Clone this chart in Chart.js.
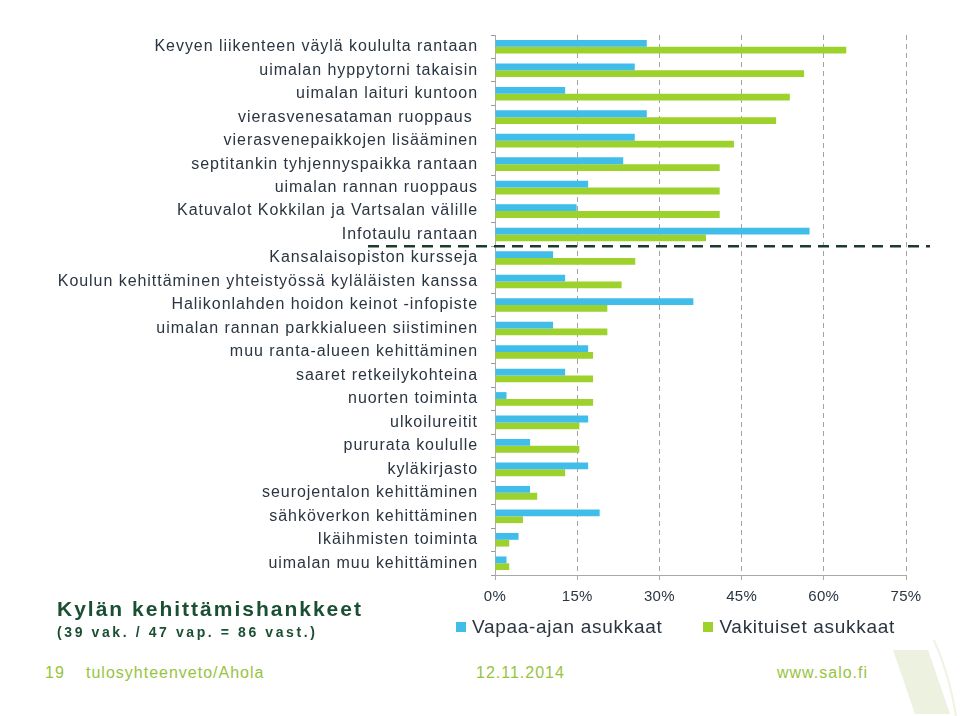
<!DOCTYPE html>
<html>
<head>
<meta charset="utf-8">
<title>Kylän kehittämishankkeet</title>
<script src="https://cdn.jsdelivr.net/npm/chart.js@4.4.1/dist/chart.umd.min.js"></script>
<style>
  html, body { margin: 0; padding: 0; background: #fff; }
  body { width: 960px; height: 716px; position: relative; overflow: hidden;
         font-family: 'Liberation Sans', Arial, sans-serif; }
  #wrap { position: absolute; left: 0; top: 0; width: 960px; height: 660px; }
  .txt { position: absolute; white-space: pre; line-height: 1; z-index: 2; }
  #title { left: 57px; top: 598px; font-size: 21px; font-weight: bold; color: #1a4f33; letter-spacing: 2px; }
  #sub { left: 57px; top: 625px; font-size: 14px; font-weight: bold; color: #1a4f33; letter-spacing: 2.6px; }
  .foot { top: 665px; font-size: 16px; color: #98c33f; letter-spacing: 1px; }
  #legend { position: absolute; left: 456px; top: 617px; z-index: 2; white-space: nowrap;
            font-size: 19px; line-height: 20px; color: #2a3541; letter-spacing: 0.7px; }
  #legend .item { display: inline-block; margin-right: 41px; }
  #legend .box { display: inline-block; width: 10px; height: 10px; margin-right: 6px; vertical-align: 1px; }
  #deco { position: absolute; left: 0; top: 0; z-index: 0; }
</style>
</head>
<body>
<svg id="deco" width="960" height="716">
  <polygon points="893,650 928,650 950,714 915,714" fill="#ecf2df"/>
  <path d="M934,640 C945,665 952,690 956,716" stroke="#eef3e4" stroke-width="2" fill="none"/>
</svg>
<div id="wrap"><canvas id="myChartBarra"></canvas></div>
<div class="txt" id="title">Kylän kehittämishankkeet</div>
<div class="txt" id="sub">(39 vak. / 47 vap. = 86 vast.)</div>
<div id="legend"></div>
<div class="txt foot" style="left:45px">19</div>
<div class="txt foot" style="left:86px">tulosyhteenveto/Ahola</div>
<div class="txt foot" style="left:476px">12.11.2014</div>
<div class="txt foot" style="left:777px">www.salo.fi</div>
<script>
var hankkeet = [
  'Kevyen liikenteen väylä koululta rantaan',
  'uimalan hyppytorni takaisin',
  'uimalan laituri kuntoon',
  'vierasvenesataman ruoppaus ',
  'vierasvenepaikkojen lisääminen',
  'septitankin tyhjennyspaikka rantaan',
  'uimalan rannan ruoppaus',
  'Katuvalot Kokkilan ja Vartsalan välille',
  'Infotaulu rantaan',
  'Kansalaisopiston kursseja',
  'Koulun kehittäminen yhteistyössä kyläläisten kanssa',
  'Halikonlahden hoidon keinot -infopiste',
  'uimalan rannan parkkialueen siistiminen',
  'muu ranta-alueen kehittäminen',
  'saaret retkeilykohteina',
  'nuorten toiminta',
  'ulkoilureitit',
  'pururata koululle',
  'kyläkirjasto',
  'seurojentalon kehittäminen',
  'sähköverkon kehittäminen',
  'Ikäihmisten toiminta',
  'uimalan muu kehittäminen'
];

// prosentit
var vapaaAjan = [27.7, 25.5, 12.8, 27.7, 25.5, 23.4, 17.0, 14.9, 57.4, 10.6, 12.8, 36.2,
                 10.6, 17.0, 12.8, 2.1, 17.0, 6.4, 17.0, 6.4, 19.1, 4.3, 2.1];
var vakituiset = [64.1, 56.4, 53.8, 51.3, 43.6, 41.0, 41.0, 41.0, 38.5, 25.6, 23.1, 20.5,
                  20.5, 17.9, 17.9, 17.9, 15.4, 15.4, 12.8, 7.7, 5.1, 2.6, 2.6];

var xTicks = [0, 15, 30, 45, 60, 75];

// y-akselin tekstit harvennettuna, x-akselin tekstit piirretään palkkien jälkeen (ticks.z)
var spacing = {
  id: 'spacing',
  beforeUpdate: function (chart) { chart.ctx.letterSpacing = '0.95px'; },
  beforeDraw: function (chart) { chart.ctx.letterSpacing = '0.95px'; },
  afterDatasetsDraw: function (chart) { chart.ctx.letterSpacing = '0.3px'; }
};

// katkoviiva "Infotaulu rantaan" -rivin alle
var divider = {
  id: 'divider',
  afterDraw: function (chart) {
    var y = chart.scales.y, x = chart.scales.x;
    var py = (y.getPixelForValue(8) + y.getPixelForValue(9)) / 2;
    var ctx = chart.ctx;
    ctx.save();
    ctx.strokeStyle = '#1e3a2c';
    ctx.lineWidth = 2.5;
    ctx.setLineDash([11, 7]);
    ctx.beginPath();
    ctx.moveTo(x.getPixelForValue(0) - 127, py);
    ctx.lineTo(chart.width - 30, py);
    ctx.stroke();
    ctx.restore();
  }
};

var ctx1 = document.getElementById('myChartBarra').getContext('2d');
var myChartBar = new Chart(ctx1, {
    type: 'bar',
    data: {
        labels: hankkeet,
        datasets: [{
            label: 'Vapaa-ajan asukkaat',
            backgroundColor: '#41bdea',
            data: vapaaAjan
        }, {
            label: 'Vakituiset asukkaat',
            backgroundColor: '#9dd12b',
            data: vakituiset
        }]
    },
    options: {
        indexAxis: 'y',
        responsive: true,
        maintainAspectRatio: false,
        animation: false,
        barPercentage: 1,
        categoryPercentage: 0.58,
        layout: { padding: { top: 35, right: 54, bottom: 55, left: 0 } },
        plugins: {
            legend: { display: false },
            tooltip: { enabled: false }
        },
        scales: {
            x: {
                min: 0,
                max: 75,
                afterBuildTicks: function (s) { s.ticks = xTicks.map(function (v) { return { value: v }; }); },
                afterFit: function (s) { s.height = 30; },
                ticks: {
                    z: 1,
                    callback: function (v) { return v + '%'; },
                    color: '#2a3541',
                    padding: 8,
                    font: { family: "'Liberation Sans', Arial, sans-serif", size: 15 }
                },
                grid: { color: '#a3a3a3', tickColor: '#aaaaaa', tickLength: 5 },
                border: { color: '#aaaaaa', dash: [5, 4] }
            },
            y: {
                afterFit: function (s) { s.width = 495; },
                ticks: {
                    color: '#2a3541',
                    padding: 13,
                    autoSkip: false,
                    font: { family: "'Liberation Sans', Arial, sans-serif", size: 16 }
                },
                grid: { drawOnChartArea: false, color: '#999999', tickLength: 4 },
                border: { color: '#aaaaaa' }
            }
        }
    },
    plugins: [spacing, divider]
});

// selite datasetien väreistä
var legendBox = document.getElementById('legend');
myChartBar.data.datasets.forEach(function (ds) {
    var item = document.createElement('span');
    item.className = 'item';
    var box = document.createElement('span');
    box.className = 'box';
    box.style.background = ds.backgroundColor;
    item.appendChild(box);
    item.appendChild(document.createTextNode(ds.label));
    legendBox.appendChild(item);
});
</script>
</body>
</html>
